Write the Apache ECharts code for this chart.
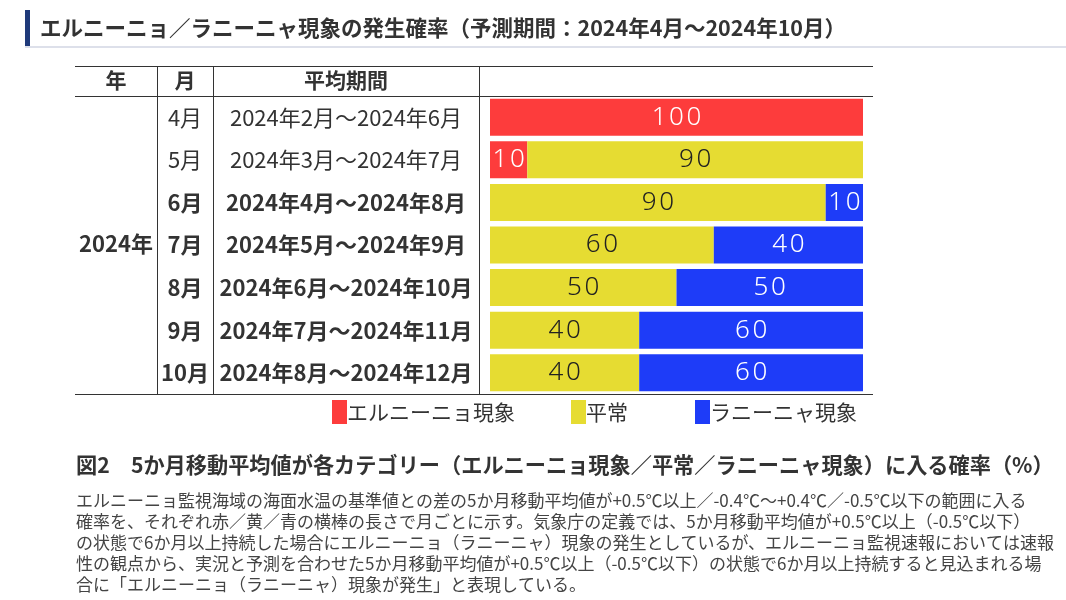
<!DOCTYPE html>
<html>
<head>
<meta charset="utf-8">
<script src="https://cdn.jsdelivr.net/npm/echarts@6/dist/echarts.min.js"></script>
<style>
html,body{margin:0;padding:0;background:#fff;}
#chart{width:1066px;height:600px;}
</style>
</head>
<body>
<div id="chart"></div>
<script>
var titleText = 'エルニーニョ／ラニーニャ現象の発生確率（予測期間：2024年4月～2024年10月）';
var headers = ['年', '月', '平均期間'];
var years = ['2024年'];
var months = ['4月', '5月', '6月', '7月', '8月', '9月', '10月'];
var periods = ['2024年2月～2024年6月', '2024年3月～2024年7月', '2024年4月～2024年8月',
  '2024年5月～2024年9月', '2024年6月～2024年10月', '2024年7月～2024年11月', '2024年8月～2024年12月'];
var seriesNames = ['エルニーニョ現象', '平常', 'ラニーニャ現象'];
var elnino = [100, 10, 0, 0, 0, 0, 0];
var normal = [0, 90, 90, 60, 50, 40, 40];
var lanina = [0, 0, 10, 40, 50, 60, 60];
var figTitle = '図2　5か月移動平均値が各カテゴリー（エルニーニョ現象／平常／ラニーニャ現象）に入る確率（%）';
var figNote = [
  'エルニーニョ監視海域の海面水温の基準値との差の5か月移動平均値が+0.5℃以上／-0.4℃～+0.4℃／-0.5℃以下の範囲に入る',
  '確率を、それぞれ赤／黄／青の横棒の長さで月ごとに示す。気象庁の定義では、5か月移動平均値が+0.5℃以上（-0.5℃以下）',
  'の状態で6か月以上持続した場合にエルニーニョ（ラニーニャ）現象の発生としているが、エルニーニョ監視速報においては速報',
  '性の観点から、実況と予測を合わせた5か月移動平均値が+0.5℃以上（-0.5℃以下）の状態で6か月以上持続すると見込まれる場',
  '合に「エルニーニョ（ラニーニャ）現象が発生」と表現している。'
];

var FONT = '"Noto Sans CJK JP", sans-serif';
var colors = ['#fd3c3c', '#e6dc32', '#1e3cf8'];
var labelColors = ['#fff', '#222', '#fff'];

var chart = echarts.init(document.getElementById('chart'));

// 6月以降は太字
function rowLabel(value, index){
  return index >= 2 ? '{b|' + value + '}' : '{n|' + value + '}';
}
var rowRich = {
  n:{fontSize:22, fontWeight:'normal', color:'#333', fontFamily:FONT},
  b:{fontSize:22, fontWeight:'bold', color:'#333', fontFamily:FONT}
};

function makeSeries(i, data){
  return {
    name:seriesNames[i],
    type:'bar',
    stack:'p',
    barWidth:37,
    data:data,
    itemStyle:{color:colors[i]},
    label:{
      show:true,
      position:'inside',
      color:labelColors[i],
      fontSize:26,
      fontWeight:300,
      fontFamily:'"Noto Sans", sans-serif',
      // 数字の間を少し空ける
      formatter:function(p){ return p.value ? String(p.value).split('').join('\u200a') : ''; }
    }
  };
}

function hline(y, x1, x2){
  return {type:'line', shape:{x1:x1, y1:y + 0.5, x2:x2, y2:y + 0.5}, style:{stroke:'#333', lineWidth:1}};
}
function vline(x, y1, y2){
  return {type:'line', shape:{x1:x + 0.5, y1:y1, x2:x + 0.5, y2:y2}, style:{stroke:'#333', lineWidth:1}};
}
function txt(t, x, y, size, weight, align, color){
  return {type:'text', x:x, y:y, style:{text:t, fontSize:size, fontWeight:weight, fontFamily:FONT,
    fill:color || '#333', align:align, verticalAlign:'middle'}};
}

function legendAt(i, left){
  return {
    data:[seriesNames[i]],
    left:left, top:400,
    itemWidth:15, itemHeight:24,
    icon:'rect',
    selectedMode:false,
    padding:0,
    textStyle:{fontSize:21, color:'#333', fontFamily:FONT, padding:[0, 0, 0, -5]}
  };
}

chart.setOption({
  animation:false,
  title:{
    text:titleText,
    left:40, top:17,
    padding:0,
    textStyle:{fontSize:21.5, fontWeight:'bold', color:'#333', fontFamily:FONT}
  },
  legend:[legendAt(0, 332), legendAt(1, 571), legendAt(2, 695)],
  grid:{left:490, right:203, top:96, bottom:206, containLabel:false},
  xAxis:{type:'value', min:0, max:100, show:false},
  yAxis:[
    {type:'category', data:months, inverse:true, position:'left',
     axisLine:{show:false}, axisTick:{show:false}, splitLine:{show:false},
     axisLabel:{margin:305, align:'center', formatter:rowLabel, rich:rowRich}},
    {type:'category', data:periods, inverse:true, position:'left',
     axisLine:{show:false}, axisTick:{show:false}, splitLine:{show:false},
     axisLabel:{margin:144, align:'center', formatter:rowLabel, rich:rowRich}}
  ],
  series:[makeSeries(0, elnino), makeSeries(1, normal), makeSeries(2, lanina)],
  graphic:[
    {type:'rect', shape:{x:25, y:10, width:5, height:37}, style:{fill:'#1f3a7a'}},
    {type:'rect', shape:{x:25, y:46, width:1041, height:2}, style:{fill:'#dde0ea'}},
    hline(66, 75, 873),
    hline(96, 75, 873),
    hline(394, 75, 873),
    vline(157, 66, 394),
    vline(213, 66, 394),
    vline(479, 66, 394),
    txt(headers[0], 116, 80, 21, 'bold', 'center'),
    txt(headers[1], 185, 80, 21, 'bold', 'center'),
    txt(headers[2], 346, 80, 21, 'bold', 'center'),
    txt(years[0], 116, 244, 22, 'bold', 'center'),
    txt(figTitle, 76, 465, 21.2, 'bold', 'left'),
    {type:'text', x:76, y:490, style:{text:figNote.join('\n'), fontSize:17, fontFamily:FONT,
      fill:'#444', lineHeight:21, align:'left', verticalAlign:'top'}}
  ]
});
</script>
</body>
</html>
